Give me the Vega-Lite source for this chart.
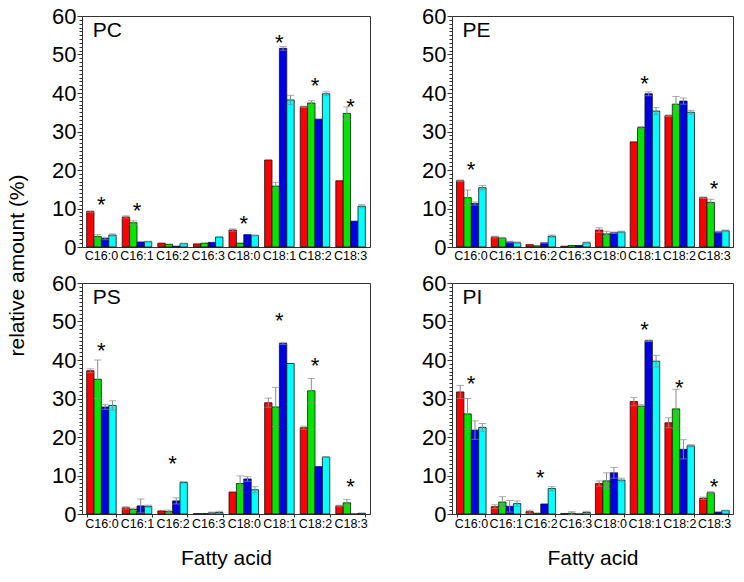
{
  "$schema": "https://vega.github.io/schema/vega-lite/v6.json",
  "padding": {"left": 6, "top": 4, "right": 5, "bottom": 5},
  "background": "white",
  "config": {
    "font": "Liberation Sans",
    "view": {"stroke": "#333333", "strokeWidth": 1},
    "axis": {"domainColor": "#333333", "tickColor": "#333333", "labelColor": "#000000", "titleColor": "#000000", "titleFontWeight": "normal", "grid": false}
  },
  "datasets": {
    "bars": [
      {"p": "PC", "fa": "C16:0", "s": "s1", "v": 9.2, "e": 0.2},
      {"p": "PC", "fa": "C16:0", "s": "s2", "v": 2.7, "e": 0.5},
      {"p": "PC", "fa": "C16:0", "s": "s3", "v": 2.2, "e": 0.3},
      {"p": "PC", "fa": "C16:0", "s": "s4", "v": 3.1, "e": 0.3},
      {"p": "PC", "fa": "C16:1", "s": "s1", "v": 7.8, "e": 0.3},
      {"p": "PC", "fa": "C16:1", "s": "s2", "v": 6.3, "e": 0.5},
      {"p": "PC", "fa": "C16:1", "s": "s3", "v": 1.3, "e": 0},
      {"p": "PC", "fa": "C16:1", "s": "s4", "v": 1.4, "e": 0.1},
      {"p": "PC", "fa": "C16:2", "s": "s1", "v": 1.0, "e": 0},
      {"p": "PC", "fa": "C16:2", "s": "s2", "v": 0.7, "e": 0},
      {"p": "PC", "fa": "C16:2", "s": "s3", "v": 0.2, "e": 0},
      {"p": "PC", "fa": "C16:2", "s": "s4", "v": 0.9, "e": 0.1},
      {"p": "PC", "fa": "C16:3", "s": "s1", "v": 0.8, "e": 0},
      {"p": "PC", "fa": "C16:3", "s": "s2", "v": 1.0, "e": 0},
      {"p": "PC", "fa": "C16:3", "s": "s3", "v": 1.2, "e": 0},
      {"p": "PC", "fa": "C16:3", "s": "s4", "v": 2.6, "e": 0},
      {"p": "PC", "fa": "C18:0", "s": "s1", "v": 4.4, "e": 0.3},
      {"p": "PC", "fa": "C18:0", "s": "s2", "v": 1.0, "e": 0},
      {"p": "PC", "fa": "C18:0", "s": "s3", "v": 3.2, "e": 0},
      {"p": "PC", "fa": "C18:0", "s": "s4", "v": 3.0, "e": 0.1},
      {"p": "PC", "fa": "C18:1", "s": "s1", "v": 22.6, "e": 0},
      {"p": "PC", "fa": "C18:1", "s": "s2", "v": 15.8, "e": 1.0},
      {"p": "PC", "fa": "C18:1", "s": "s3", "v": 51.6, "e": 0.5},
      {"p": "PC", "fa": "C18:1", "s": "s4", "v": 38.2, "e": 1.2},
      {"p": "PC", "fa": "C18:2", "s": "s1", "v": 36.4, "e": 0.2},
      {"p": "PC", "fa": "C18:2", "s": "s2", "v": 37.4, "e": 0.6},
      {"p": "PC", "fa": "C18:2", "s": "s3", "v": 33.2, "e": 0},
      {"p": "PC", "fa": "C18:2", "s": "s4", "v": 39.8, "e": 0.5},
      {"p": "PC", "fa": "C18:3", "s": "s1", "v": 17.2, "e": 0},
      {"p": "PC", "fa": "C18:3", "s": "s2", "v": 34.7, "e": 1.7},
      {"p": "PC", "fa": "C18:3", "s": "s3", "v": 6.7, "e": 0},
      {"p": "PC", "fa": "C18:3", "s": "s4", "v": 10.6, "e": 0.4},

      {"p": "PE", "fa": "C16:0", "s": "s1", "v": 17.2, "e": 0.2},
      {"p": "PE", "fa": "C16:0", "s": "s2", "v": 12.8, "e": 2.0},
      {"p": "PE", "fa": "C16:0", "s": "s3", "v": 11.3, "e": 0.4},
      {"p": "PE", "fa": "C16:0", "s": "s4", "v": 15.4, "e": 0.6},
      {"p": "PE", "fa": "C16:1", "s": "s1", "v": 2.6, "e": 0.2},
      {"p": "PE", "fa": "C16:1", "s": "s2", "v": 2.3, "e": 0.2},
      {"p": "PE", "fa": "C16:1", "s": "s3", "v": 1.3, "e": 0.2},
      {"p": "PE", "fa": "C16:1", "s": "s4", "v": 1.1, "e": 0.2},
      {"p": "PE", "fa": "C16:2", "s": "s1", "v": 0.6, "e": 0},
      {"p": "PE", "fa": "C16:2", "s": "s2", "v": 0.3, "e": 0},
      {"p": "PE", "fa": "C16:2", "s": "s3", "v": 1.1, "e": 0.1},
      {"p": "PE", "fa": "C16:2", "s": "s4", "v": 2.8, "e": 0.3},
      {"p": "PE", "fa": "C16:3", "s": "s1", "v": 0.2, "e": 0},
      {"p": "PE", "fa": "C16:3", "s": "s2", "v": 0.4, "e": 0},
      {"p": "PE", "fa": "C16:3", "s": "s3", "v": 0.4, "e": 0},
      {"p": "PE", "fa": "C16:3", "s": "s4", "v": 1.1, "e": 0.2},
      {"p": "PE", "fa": "C18:0", "s": "s1", "v": 4.4, "e": 0.6},
      {"p": "PE", "fa": "C18:0", "s": "s2", "v": 3.4, "e": 0.7},
      {"p": "PE", "fa": "C18:0", "s": "s3", "v": 3.7, "e": 0.2},
      {"p": "PE", "fa": "C18:0", "s": "s4", "v": 3.9, "e": 0.2},
      {"p": "PE", "fa": "C18:1", "s": "s1", "v": 27.3, "e": 0},
      {"p": "PE", "fa": "C18:1", "s": "s2", "v": 31.0, "e": 0.3},
      {"p": "PE", "fa": "C18:1", "s": "s3", "v": 39.8, "e": 0.5},
      {"p": "PE", "fa": "C18:1", "s": "s4", "v": 35.3, "e": 0.9},
      {"p": "PE", "fa": "C18:2", "s": "s1", "v": 34.1, "e": 0.2},
      {"p": "PE", "fa": "C18:2", "s": "s2", "v": 37.1, "e": 2.0},
      {"p": "PE", "fa": "C18:2", "s": "s3", "v": 37.9, "e": 0.8},
      {"p": "PE", "fa": "C18:2", "s": "s4", "v": 35.0, "e": 0.5},
      {"p": "PE", "fa": "C18:3", "s": "s1", "v": 12.8, "e": 0.2},
      {"p": "PE", "fa": "C18:3", "s": "s2", "v": 11.6, "e": 0.8},
      {"p": "PE", "fa": "C18:3", "s": "s3", "v": 3.9, "e": 0.2},
      {"p": "PE", "fa": "C18:3", "s": "s4", "v": 4.2, "e": 0.2},

      {"p": "PS", "fa": "C16:0", "s": "s1", "v": 37.2, "e": 0.5},
      {"p": "PS", "fa": "C16:0", "s": "s2", "v": 35.0, "e": 5.0},
      {"p": "PS", "fa": "C16:0", "s": "s3", "v": 27.8, "e": 0.6},
      {"p": "PS", "fa": "C16:0", "s": "s4", "v": 28.2, "e": 1.2},
      {"p": "PS", "fa": "C16:1", "s": "s1", "v": 1.6, "e": 0.3},
      {"p": "PS", "fa": "C16:1", "s": "s2", "v": 1.2, "e": 0.3},
      {"p": "PS", "fa": "C16:1", "s": "s3", "v": 2.1, "e": 1.8},
      {"p": "PS", "fa": "C16:1", "s": "s4", "v": 2.0, "e": 0.3},
      {"p": "PS", "fa": "C16:2", "s": "s1", "v": 0.8, "e": 0},
      {"p": "PS", "fa": "C16:2", "s": "s2", "v": 0.6, "e": 0.4},
      {"p": "PS", "fa": "C16:2", "s": "s3", "v": 3.4, "e": 0.8},
      {"p": "PS", "fa": "C16:2", "s": "s4", "v": 8.2, "e": 0.2},
      {"p": "PS", "fa": "C16:3", "s": "s1", "v": 0.1, "e": 0},
      {"p": "PS", "fa": "C16:3", "s": "s2", "v": 0.1, "e": 0},
      {"p": "PS", "fa": "C16:3", "s": "s3", "v": 0.3, "e": 0.2},
      {"p": "PS", "fa": "C16:3", "s": "s4", "v": 0.4, "e": 0.3},
      {"p": "PS", "fa": "C18:0", "s": "s1", "v": 5.7, "e": 0},
      {"p": "PS", "fa": "C18:0", "s": "s2", "v": 7.9, "e": 2.0},
      {"p": "PS", "fa": "C18:0", "s": "s3", "v": 9.1, "e": 0.6},
      {"p": "PS", "fa": "C18:0", "s": "s4", "v": 6.3, "e": 0.8},
      {"p": "PS", "fa": "C18:1", "s": "s1", "v": 28.9, "e": 1.2},
      {"p": "PS", "fa": "C18:1", "s": "s2", "v": 27.8, "e": 5.1},
      {"p": "PS", "fa": "C18:1", "s": "s3", "v": 44.3, "e": 0.3},
      {"p": "PS", "fa": "C18:1", "s": "s4", "v": 39.1, "e": 0},
      {"p": "PS", "fa": "C18:2", "s": "s1", "v": 22.4, "e": 0.4},
      {"p": "PS", "fa": "C18:2", "s": "s2", "v": 32.0, "e": 3.2},
      {"p": "PS", "fa": "C18:2", "s": "s3", "v": 12.3, "e": 0},
      {"p": "PS", "fa": "C18:2", "s": "s4", "v": 14.8, "e": 0.1},
      {"p": "PS", "fa": "C18:3", "s": "s1", "v": 2.1, "e": 0.2},
      {"p": "PS", "fa": "C18:3", "s": "s2", "v": 2.9, "e": 0.9},
      {"p": "PS", "fa": "C18:3", "s": "s3", "v": 0.0, "e": 0},
      {"p": "PS", "fa": "C18:3", "s": "s4", "v": 0.2, "e": 0},

      {"p": "PI", "fa": "C16:0", "s": "s1", "v": 31.7, "e": 1.7},
      {"p": "PI", "fa": "C16:0", "s": "s2", "v": 26.0, "e": 4.0},
      {"p": "PI", "fa": "C16:0", "s": "s3", "v": 21.8, "e": 2.4},
      {"p": "PI", "fa": "C16:0", "s": "s4", "v": 22.5, "e": 1.0},
      {"p": "PI", "fa": "C16:1", "s": "s1", "v": 1.9, "e": 0.5},
      {"p": "PI", "fa": "C16:1", "s": "s2", "v": 3.1, "e": 1.4},
      {"p": "PI", "fa": "C16:1", "s": "s3", "v": 2.0, "e": 1.5},
      {"p": "PI", "fa": "C16:1", "s": "s4", "v": 2.7, "e": 0.7},
      {"p": "PI", "fa": "C16:2", "s": "s1", "v": 0.6, "e": 0.4},
      {"p": "PI", "fa": "C16:2", "s": "s2", "v": 0.2, "e": 0},
      {"p": "PI", "fa": "C16:2", "s": "s3", "v": 2.6, "e": 0},
      {"p": "PI", "fa": "C16:2", "s": "s4", "v": 6.6, "e": 0.5},
      {"p": "PI", "fa": "C16:3", "s": "s1", "v": 0.1, "e": 0},
      {"p": "PI", "fa": "C16:3", "s": "s2", "v": 0.2, "e": 0.4},
      {"p": "PI", "fa": "C16:3", "s": "s3", "v": 0.0, "e": 0},
      {"p": "PI", "fa": "C16:3", "s": "s4", "v": 0.4, "e": 0.3},
      {"p": "PI", "fa": "C18:0", "s": "s1", "v": 7.9, "e": 0.7},
      {"p": "PI", "fa": "C18:0", "s": "s2", "v": 8.6, "e": 2.1},
      {"p": "PI", "fa": "C18:0", "s": "s3", "v": 10.7, "e": 1.4},
      {"p": "PI", "fa": "C18:0", "s": "s4", "v": 8.8, "e": 0.5},
      {"p": "PI", "fa": "C18:1", "s": "s1", "v": 29.2, "e": 1.1},
      {"p": "PI", "fa": "C18:1", "s": "s2", "v": 28.0, "e": 0.4},
      {"p": "PI", "fa": "C18:1", "s": "s3", "v": 45.0, "e": 0.2},
      {"p": "PI", "fa": "C18:1", "s": "s4", "v": 39.7, "e": 1.5},
      {"p": "PI", "fa": "C18:2", "s": "s1", "v": 23.7, "e": 1.3},
      {"p": "PI", "fa": "C18:2", "s": "s2", "v": 27.3, "e": 5.1},
      {"p": "PI", "fa": "C18:2", "s": "s3", "v": 16.8, "e": 2.5},
      {"p": "PI", "fa": "C18:2", "s": "s4", "v": 17.7, "e": 0.3},
      {"p": "PI", "fa": "C18:3", "s": "s1", "v": 4.1, "e": 0.3},
      {"p": "PI", "fa": "C18:3", "s": "s2", "v": 5.5, "e": 0.3},
      {"p": "PI", "fa": "C18:3", "s": "s3", "v": 0.5, "e": 0},
      {"p": "PI", "fa": "C18:3", "s": "s4", "v": 0.9, "e": 0.1}
    ],
    "stars": [
      {"p": "PC", "fa": "C16:0", "y": 12.5},
      {"p": "PC", "fa": "C16:1", "y": 11},
      {"p": "PC", "fa": "C18:0", "y": 7.6},
      {"p": "PC", "fa": "C18:1", "y": 54.5},
      {"p": "PC", "fa": "C18:2", "y": 43.5},
      {"p": "PC", "fa": "C18:3", "y": 38},
      {"p": "PE", "fa": "C16:0", "y": 21.6},
      {"p": "PE", "fa": "C18:1", "y": 44},
      {"p": "PE", "fa": "C18:3", "y": 16.5},
      {"p": "PS", "fa": "C16:0", "y": 44},
      {"p": "PS", "fa": "C16:2", "y": 14.5},
      {"p": "PS", "fa": "C18:1", "y": 51.8},
      {"p": "PS", "fa": "C18:2", "y": 40},
      {"p": "PS", "fa": "C18:3", "y": 8.6},
      {"p": "PI", "fa": "C16:0", "y": 35.3},
      {"p": "PI", "fa": "C16:2", "y": 10.9},
      {"p": "PI", "fa": "C18:1", "y": 49.4},
      {"p": "PI", "fa": "C18:2", "y": 34.3},
      {"p": "PI", "fa": "C18:3", "y": 8.5}
    ],
    "labels": [
      {"p": "PC", "fa": "C16:0", "y": 56},
      {"p": "PE", "fa": "C16:0", "y": 56},
      {"p": "PS", "fa": "C16:0", "y": 56},
      {"p": "PI", "fa": "C16:0", "y": 56}
    ]
  },
  "columns": 2,
  "bounds": "flush",
  "spacing": {"row": 36, "column": 82},
  "concat": [
    {
      "width": 288, "height": 231,
      "layer": [
        {"data": {"name": "bars"}, "transform": [{"filter": "datum.p === 'PC'"}],
         "mark": {"type": "bar", "stroke": "#111111", "strokeWidth": 0.8},
         "encoding": {
           "x": {"field": "fa", "type": "nominal", "title": null, "scale": {"domain": ["C16:0","C16:1","C16:2","C16:3","C18:0","C18:1","C18:2","C18:3"], "paddingInner": 0.17, "paddingOuter": 0.13}, "axis": {"labelAngle": 0, "labelFontSize": 12.5, "ticks": false, "labelPadding": 2}},
           "xOffset": {"field": "s", "type": "nominal", "scale": {"paddingInner": 0, "paddingOuter": 0}},
           "y": {"field": "v", "type": "quantitative", "title": "relative amount (%)", "scale": {"domain": [0, 60], "nice": false}, "axis": {"titleFontSize": 21, "titleY": 249, "titlePadding": 24, "tickCount": 60, "labelFontSize": 22, "labelOverlap": false, "labelPadding": 1, "labelExpr": "datum.value % 10 === 0 ? datum.label : ''", "tickSize": {"condition": {"test": "datum.value % 10 === 0", "value": 5}, "value": 3}}},
           "color": {"field": "s", "type": "nominal", "scale": {"domain": ["s1","s2","s3","s4"], "range": ["#FF0000","#00E600","#0000E6","#00FFFF"]}, "legend": null}
         }},
        {"data": {"name": "bars"}, "transform": [{"filter": "datum.p === 'PC' && datum.e > 0"}],
         "mark": {"type": "errorbar", "ticks": true, "color": "#8a8a8a"},
         "encoding": {
           "x": {"field": "fa", "type": "nominal", "title": null},
           "xOffset": {"field": "s", "type": "nominal"},
           "y": {"field": "v", "type": "quantitative", "title": "relative amount (%)"},
           "yError": {"field": "e"}
         }},
        {"data": {"name": "stars"}, "transform": [{"filter": "datum.p === 'PC'"}],
         "mark": {"type": "text", "text": "*", "fontSize": 22, "dy": 6},
         "encoding": {
           "x": {"field": "fa", "type": "nominal", "title": null},
           "y": {"field": "y", "type": "quantitative", "title": "relative amount (%)"}
         }},
        {"data": {"name": "labels"}, "transform": [{"filter": "datum.p === 'PC'"}],
         "mark": {"type": "text", "align": "left", "baseline": "middle", "fontSize": 21, "dx": 6},
         "encoding": {
           "x": {"field": "fa", "type": "nominal", "bandPosition": 0, "title": null},
           "y": {"field": "y", "type": "quantitative", "title": "relative amount (%)"},
           "text": {"field": "p"}
         }}
      ]
    },
    {
      "width": 281, "height": 231,
      "layer": [
        {"data": {"name": "bars"}, "transform": [{"filter": "datum.p === 'PE'"}],
         "mark": {"type": "bar", "stroke": "#111111", "strokeWidth": 0.8},
         "encoding": {
           "x": {"field": "fa", "type": "nominal", "title": null, "scale": {"domain": ["C16:0","C16:1","C16:2","C16:3","C18:0","C18:1","C18:2","C18:3"], "paddingInner": 0.17, "paddingOuter": 0.13}, "axis": {"labelAngle": 0, "labelFontSize": 12.5, "ticks": false, "labelPadding": 2}},
           "xOffset": {"field": "s", "type": "nominal", "scale": {"paddingInner": 0, "paddingOuter": 0}},
           "y": {"field": "v", "type": "quantitative", "title": null, "scale": {"domain": [0, 60], "nice": false}, "axis": {"tickCount": 60, "labelFontSize": 22, "labelOverlap": false, "labelPadding": 1, "labelExpr": "datum.value % 10 === 0 ? datum.label : ''", "tickSize": {"condition": {"test": "datum.value % 10 === 0", "value": 5}, "value": 3}}},
           "color": {"field": "s", "type": "nominal", "scale": {"domain": ["s1","s2","s3","s4"], "range": ["#FF0000","#00E600","#0000E6","#00FFFF"]}, "legend": null}
         }},
        {"data": {"name": "bars"}, "transform": [{"filter": "datum.p === 'PE' && datum.e > 0"}],
         "mark": {"type": "errorbar", "ticks": true, "color": "#8a8a8a"},
         "encoding": {
           "x": {"field": "fa", "type": "nominal", "title": null},
           "xOffset": {"field": "s", "type": "nominal"},
           "y": {"field": "v", "type": "quantitative", "title": null},
           "yError": {"field": "e"}
         }},
        {"data": {"name": "stars"}, "transform": [{"filter": "datum.p === 'PE'"}],
         "mark": {"type": "text", "text": "*", "fontSize": 22, "dy": 6},
         "encoding": {
           "x": {"field": "fa", "type": "nominal", "title": null},
           "y": {"field": "y", "type": "quantitative", "title": null}
         }},
        {"data": {"name": "labels"}, "transform": [{"filter": "datum.p === 'PE'"}],
         "mark": {"type": "text", "align": "left", "baseline": "middle", "fontSize": 21, "dx": 6},
         "encoding": {
           "x": {"field": "fa", "type": "nominal", "bandPosition": 0, "title": null},
           "y": {"field": "y", "type": "quantitative", "title": null},
           "text": {"field": "p"}
         }}
      ]
    },
    {
      "width": 288, "height": 231,
      "layer": [
        {"data": {"name": "bars"}, "transform": [{"filter": "datum.p === 'PS'"}],
         "mark": {"type": "bar", "stroke": "#111111", "strokeWidth": 0.8},
         "encoding": {
           "x": {"field": "fa", "type": "nominal", "title": "Fatty acid", "scale": {"domain": ["C16:0","C16:1","C16:2","C16:3","C18:0","C18:1","C18:2","C18:3"], "paddingInner": 0.17, "paddingOuter": 0.13}, "axis": {"titleFontSize": 21, "titlePadding": 18, "labelAngle": 0, "labelFontSize": 12.5, "tickBand": "extent", "tickSize": 3, "labelPadding": 0}},
           "xOffset": {"field": "s", "type": "nominal", "scale": {"paddingInner": 0, "paddingOuter": 0}},
           "y": {"field": "v", "type": "quantitative", "title": null, "scale": {"domain": [0, 60], "nice": false}, "axis": {"tickCount": 60, "labelFontSize": 22, "labelOverlap": false, "labelPadding": 1, "labelExpr": "datum.value % 10 === 0 ? datum.label : ''", "tickSize": {"condition": {"test": "datum.value % 10 === 0", "value": 5}, "value": 3}}},
           "color": {"field": "s", "type": "nominal", "scale": {"domain": ["s1","s2","s3","s4"], "range": ["#FF0000","#00E600","#0000E6","#00FFFF"]}, "legend": null}
         }},
        {"data": {"name": "bars"}, "transform": [{"filter": "datum.p === 'PS' && datum.e > 0"}],
         "mark": {"type": "errorbar", "ticks": true, "color": "#8a8a8a"},
         "encoding": {
           "x": {"field": "fa", "type": "nominal", "title": "Fatty acid"},
           "xOffset": {"field": "s", "type": "nominal"},
           "y": {"field": "v", "type": "quantitative", "title": null},
           "yError": {"field": "e"}
         }},
        {"data": {"name": "stars"}, "transform": [{"filter": "datum.p === 'PS'"}],
         "mark": {"type": "text", "text": "*", "fontSize": 22, "dy": 6},
         "encoding": {
           "x": {"field": "fa", "type": "nominal", "title": "Fatty acid"},
           "y": {"field": "y", "type": "quantitative", "title": null}
         }},
        {"data": {"name": "labels"}, "transform": [{"filter": "datum.p === 'PS'"}],
         "mark": {"type": "text", "align": "left", "baseline": "middle", "fontSize": 21, "dx": 6},
         "encoding": {
           "x": {"field": "fa", "type": "nominal", "bandPosition": 0, "title": "Fatty acid"},
           "y": {"field": "y", "type": "quantitative", "title": null},
           "text": {"field": "p"}
         }}
      ]
    },
    {
      "width": 281, "height": 231,
      "layer": [
        {"data": {"name": "bars"}, "transform": [{"filter": "datum.p === 'PI'"}],
         "mark": {"type": "bar", "stroke": "#111111", "strokeWidth": 0.8},
         "encoding": {
           "x": {"field": "fa", "type": "nominal", "title": "Fatty acid", "scale": {"domain": ["C16:0","C16:1","C16:2","C16:3","C18:0","C18:1","C18:2","C18:3"], "paddingInner": 0.17, "paddingOuter": 0.13}, "axis": {"titleFontSize": 21, "titlePadding": 18, "labelAngle": 0, "labelFontSize": 12.5, "tickBand": "extent", "tickSize": 3, "labelPadding": 0}},
           "xOffset": {"field": "s", "type": "nominal", "scale": {"paddingInner": 0, "paddingOuter": 0}},
           "y": {"field": "v", "type": "quantitative", "title": null, "scale": {"domain": [0, 60], "nice": false}, "axis": {"tickCount": 60, "labelFontSize": 22, "labelOverlap": false, "labelPadding": 1, "labelExpr": "datum.value % 10 === 0 ? datum.label : ''", "tickSize": {"condition": {"test": "datum.value % 10 === 0", "value": 5}, "value": 3}}},
           "color": {"field": "s", "type": "nominal", "scale": {"domain": ["s1","s2","s3","s4"], "range": ["#FF0000","#00E600","#0000E6","#00FFFF"]}, "legend": null}
         }},
        {"data": {"name": "bars"}, "transform": [{"filter": "datum.p === 'PI' && datum.e > 0"}],
         "mark": {"type": "errorbar", "ticks": true, "color": "#8a8a8a"},
         "encoding": {
           "x": {"field": "fa", "type": "nominal", "title": "Fatty acid"},
           "xOffset": {"field": "s", "type": "nominal"},
           "y": {"field": "v", "type": "quantitative", "title": null},
           "yError": {"field": "e"}
         }},
        {"data": {"name": "stars"}, "transform": [{"filter": "datum.p === 'PI'"}],
         "mark": {"type": "text", "text": "*", "fontSize": 22, "dy": 6},
         "encoding": {
           "x": {"field": "fa", "type": "nominal", "title": "Fatty acid"},
           "y": {"field": "y", "type": "quantitative", "title": null}
         }},
        {"data": {"name": "labels"}, "transform": [{"filter": "datum.p === 'PI'"}],
         "mark": {"type": "text", "align": "left", "baseline": "middle", "fontSize": 21, "dx": 6},
         "encoding": {
           "x": {"field": "fa", "type": "nominal", "bandPosition": 0, "title": "Fatty acid"},
           "y": {"field": "y", "type": "quantitative", "title": null},
           "text": {"field": "p"}
         }}
      ]
    }
  ]
}
